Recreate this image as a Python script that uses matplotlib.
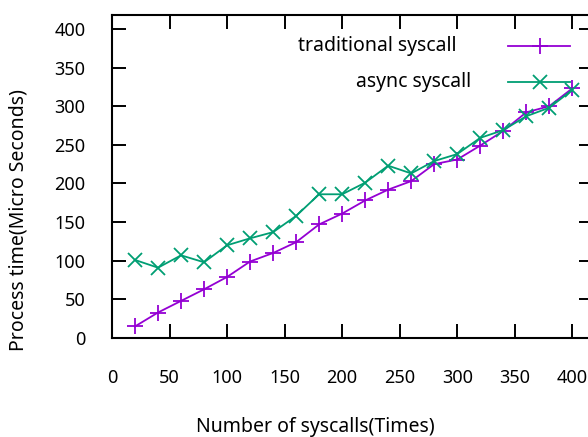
from matplotlib import pyplot as plt

plt.rcParams['font.family'] = ['Noto Sans', 'DejaVu Sans']
plt.rcParams['font.size'] = 13

# calls per run
calls = [20, 40, 60, 80, 100, 120, 140, 160, 180, 200,
         220, 240, 260, 280, 300, 320, 340, 360, 380, 400]
# process time (micro seconds)
traditional = [15, 33, 48, 63, 79, 99, 110, 124, 147, 161,
               178, 192, 203, 225, 231, 249, 268, 292, 300, 323]
async_call = [101, 91, 107, 98, 120, 129, 137, 158, 186, 186,
              201, 223, 213, 229, 238, 259, 269, 287, 298, 321]
x_ticks = [0, 50, 100, 150, 200, 250, 300, 350, 400]
y_ticks = [0, 50, 100, 150, 200, 250, 300, 350, 400]

purple = '#9400d3'
green = '#009e73'

fig = plt.figure(figsize=(5.88, 4.37), dpi=100)
ax = fig.add_axes([112/588, 99/437, 481/588, 323/437])

ax.plot(calls, traditional, '-', color=purple, lw=1.3, marker='+', markersize=11, mew=1.3)
ax.plot(calls, async_call, '-', color=green, lw=1.3, marker='x', markersize=10, mew=1.3)

ax.set_xlim(0, 418)
ax.set_ylim(0, 418)
ax.set_xticks(x_ticks)
ax.set_yticks(y_ticks)
ax.tick_params(direction='in', length=10, width=1.4, top=True, right=True,
               colors='black', labelsize=13)
ax.tick_params(axis='x', pad=22)
ax.tick_params(axis='y', pad=19)
for s in ax.spines.values():
    s.set_linewidth(1.5)

ax.set_xlabel('Number of syscalls(Times)', fontsize=14)
ax.set_ylabel('Process time(Micro Seconds)', fontsize=14)
ax.xaxis.set_label_coords((315 - 112)/481, -(427 - 338)/323)
ax.yaxis.set_label_coords((18 - 112)/481, (338 - 220)/323)
ax.xaxis.label.set_va('center')
ax.yaxis.label.set_va('center')

# gnuplot style key, top right
key = [('traditional syscall', purple, '+', 11, 457), ('async syscall', green, 'x', 10, 471)]
for i, (name, col, mk, ms, xr) in enumerate(key):
    yk = 1 - (31 + 36*i)/323
    ax.text((xr - 112)/481, yk, name, transform=ax.transAxes, ha='right', va='center', fontsize=14)
    ax.plot([(508-112)/481, (570-112)/481], [yk, yk], color=col, lw=1.3, transform=ax.transAxes, clip_on=False)
    ax.plot([(540-112)/481], [yk], color=col, marker=mk, markersize=ms, mew=1.3,
            transform=ax.transAxes, clip_on=False)

fig.savefig('out.png', dpi=100)
